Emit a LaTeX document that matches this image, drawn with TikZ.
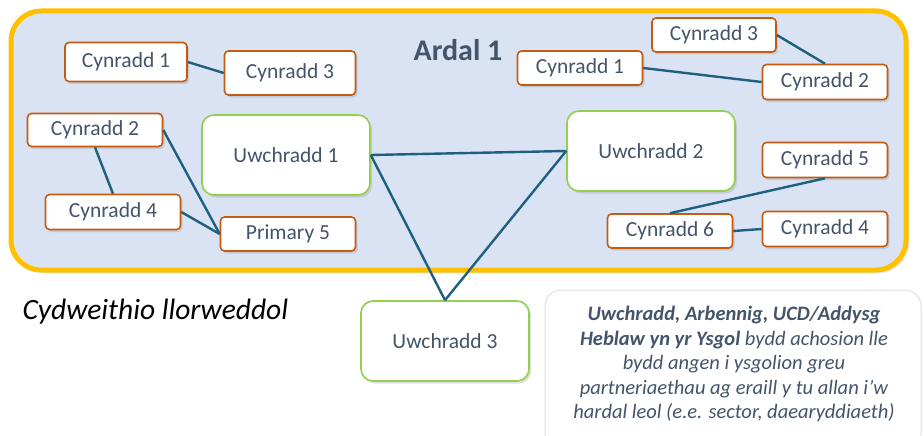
\documentclass[tikz,border=0pt]{standalone}
\usepackage{fontspec}
\setmainfont{Carlito}
\usetikzlibrary{shadows}

\definecolor{ardalfill}{HTML}{DAE3F3}
\definecolor{ardalrim}{HTML}{FFC000}
\definecolor{cynrim}{HTML}{C55A11}
\definecolor{uwchrim}{HTML}{92D050}
\definecolor{linkcol}{HTML}{1F6080}
\definecolor{textcol}{HTML}{44546A}

\tikzset{
	boxshadow/.style={drop shadow={opacity=0.25,shadow xshift=2pt,shadow yshift=-2.5pt}},
	cyn/.style={draw=cynrim,line width=1.6pt,fill=white,rounded corners=4pt,inner sep=0pt,
		text=textcol,font=\fontsize{21.5}{25}\selectfont,boxshadow},
	uwch/.style={draw=uwchrim,line width=1.6pt,fill=white,rounded corners=12pt,inner sep=0pt,
		text=textcol,font=\fontsize{21.5}{25}\selectfont,minimum width=168pt,minimum height=80pt,boxshadow},
	link/.style={draw=linkcol,line width=2.4pt}
}

\begin{document}
\begin{tikzpicture}[x=1pt,y=-1pt]
	\useasboundingbox (0,0) rectangle (924,436);
	% ardal frame
	\draw[line width=5pt,draw=ardalrim,fill=ardalfill,rounded corners=30pt,
		drop shadow={opacity=0.2,shadow xshift=3pt,shadow yshift=-3pt}] (11,11) rectangle (906,270);
	\node[text=textcol,font=\bfseries\fontsize{30}{34}\selectfont] (title) at (458,50) {Ardal 1};

	% left group
	\node[cyn,minimum width=122pt,minimum height=39pt] (lc1) at (126,62) {Cynradd 1};
	\node[cyn,minimum width=131pt,minimum height=44pt] (lc3) at (290,73) {Cynradd 3};
	\node[cyn,minimum width=135pt,minimum height=33pt] (lc2) at (95,130) {Cynradd 2};
	\node[cyn,minimum width=135pt,minimum height=35pt] (lc4) at (113,212) {Cynradd 4};
	\node[cyn,minimum width=135pt,minimum height=34pt] (lp5) at (288,234) {Primary 5};

	% uwchradd
	\node[uwch] (u1) at (286,155) {Uwchradd 1};
	\node[uwch] (u2) at (651,151) {Uwchradd 2};
	\node[uwch] (u3) at (445,341) {Uwchradd 3};

	% right group
	\node[cyn,minimum width=124pt,minimum height=34pt] (rc3) at (714,35) {Cynradd 3};
	\node[cyn,minimum width=125pt,minimum height=34pt] (rc1) at (580,68) {Cynradd 1};
	\node[cyn,minimum width=125pt,minimum height=35pt] (rc2) at (825,82) {Cynradd 2};
	\node[cyn,minimum width=125pt,minimum height=35pt] (rc5) at (825,160) {Cynradd 5};
	\node[cyn,minimum width=125pt,minimum height=34pt] (rc6) at (670,231) {Cynradd 6};
	\node[cyn,minimum width=125pt,minimum height=35pt] (rc4) at (825,229) {Cynradd 4};

	% links
	\draw[link] (lc1.east) -- (lc3.west);
	\draw[link] (lc2.south) -- (lc4.north);
	\draw[link] (lc2.east) -- (lp5.west);
	\draw[link] (lc4.east) -- (lp5.west);
	\draw[link] (u1.east) -- (u2.west);
	\draw[link] (u1.east) -- (u3.north);
	\draw[link] (u2.west) -- (u3.north);
	\draw[link] (rc1.east) -- (rc2.west);
	\draw[link] (rc3.east) -- (rc2.north);
	\draw[link] (rc5.south) -- (rc6.north);
	\draw[link] (rc6.east) -- (rc4.west);

	% captions
	\node[anchor=west,font=\itshape\fontsize{29.5}{34}\selectfont] (llor) at (19,312) {Cydweithio llorweddol};
	\draw[draw=black!12,line width=1pt,fill=white,rounded corners=16pt,
		drop shadow={opacity=0.15,shadow xshift=0pt,shadow yshift=-2pt}] (545,290) rectangle (921,450);
	\node[align=center,text=textcol,font=\itshape\fontsize{20.5}{24.5}\selectfont] (note) at (734,364)
		{\textbf{Uwchradd, Arbennig, UCD/Addysg}\\
		\textbf{Heblaw yn yr Ysgol} bydd achosion lle\\
		bydd angen i ysgolion greu\\
		partneriaethau ag eraill y tu allan i’w\\
		hardal leol (e.e. sector, daearyddiaeth)};
\end{tikzpicture}
\end{document}
